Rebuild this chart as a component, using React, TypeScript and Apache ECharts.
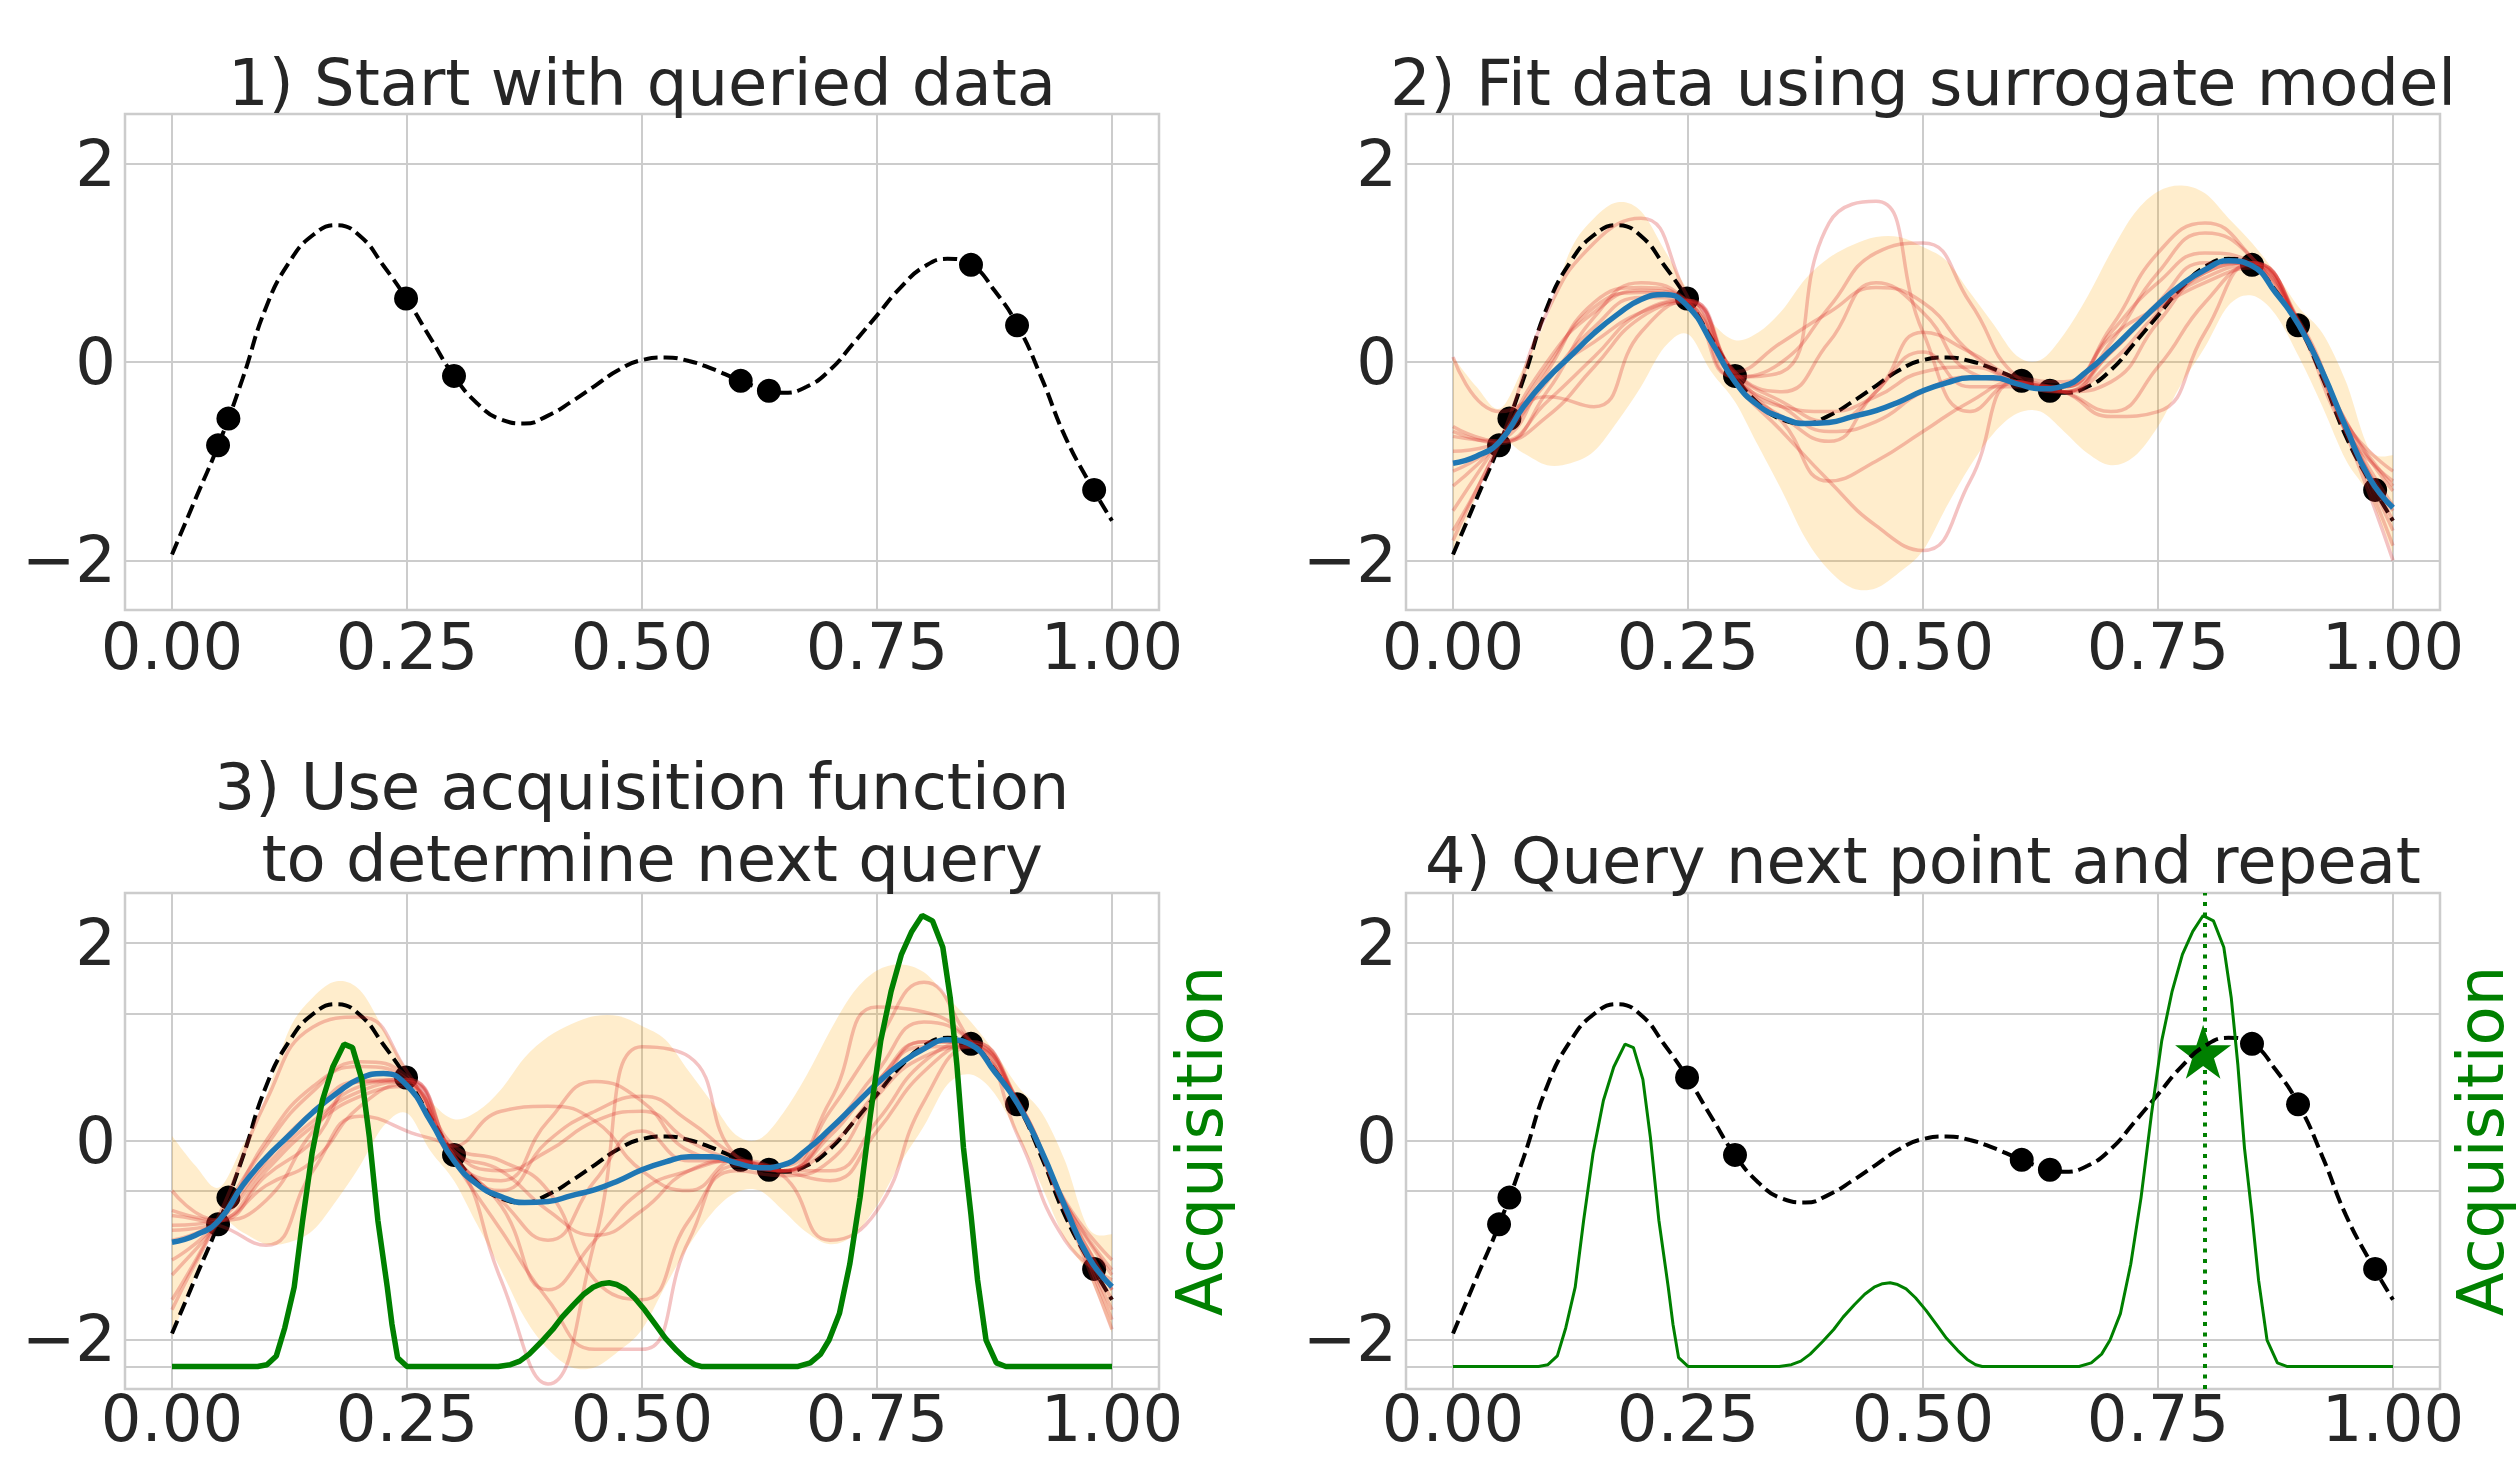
import React, { useEffect, useRef } from 'react';
import * as echarts from 'echarts';

// ---------- text ----------
const panelTitles = [
  '1) Start with queried data',
  '2) Fit data using surrogate model',
  '3) Use acquisition function\n to determine next query',
  '4) Query next point and repeat',
];
const acqAxisName = 'Acquisition';

// ---------- ticks ----------
const xTicks = [0, 0.25, 0.5, 0.75, 1.0];
const xTickLabels = ['0.00', '0.25', '0.50', '0.75', '1.00'];
const yTicks = [-2, 0, 2];
const yTickLabels = ['\u22122', '0', '2'];
const xMin = -0.05;
const xMax = 1.05;
const yMin = -2.5;
const yMax = 2.5;
const acqTicks = [0, 1, 2];
const acqAxisMin = -0.128;
const acqAxisMax = 2.688;

// ---------- true objective (dashed) ----------
const trueX = [0, 0.025, 0.05, 0.075, 0.1, 0.125, 0.15, 0.175, 0.2, 0.225, 0.25, 0.275, 0.3, 0.325, 0.35, 0.375, 0.4, 0.425, 0.45, 0.475, 0.5, 0.525, 0.55, 0.575, 0.6, 0.625, 0.65, 0.675, 0.7, 0.725, 0.75, 0.775, 0.8, 0.825, 0.85, 0.875, 0.9, 0.925, 0.95, 0.975, 1.0];
const trueY = [-1.94, -1.38, -0.82, -0.17, 0.55, 1.01, 1.28, 1.38, 1.27, 0.97, 0.63, 0.24, -0.14, -0.42, -0.58, -0.62, -0.54, -0.40, -0.24, -0.08, 0.02, 0.045, 0.01, -0.07, -0.17, -0.26, -0.31, -0.25, -0.08, 0.19, 0.47, 0.75, 0.96, 1.04, 0.98, 0.72, 0.36, -0.16, -0.75, -1.20, -1.60];

// ---------- queried observations ----------
const obsX = [0.049, 0.06, 0.249, 0.3, 0.605, 0.635, 0.85, 0.899, 0.981];
const obsY = [-0.84, -0.57, 0.64, -0.14, -0.19, -0.29, 0.98, 0.37, -1.29];

// ---------- GP posterior ----------
const gpX = [0, 0.025, 0.05, 0.075, 0.1, 0.125, 0.15, 0.175, 0.2, 0.225, 0.25, 0.275, 0.3, 0.325, 0.35, 0.375, 0.4, 0.425, 0.45, 0.475, 0.5, 0.525, 0.55, 0.575, 0.6, 0.625, 0.65, 0.675, 0.7, 0.725, 0.75, 0.775, 0.8, 0.825, 0.85, 0.875, 0.9, 0.925, 0.95, 0.975, 1.0];
const gpMean = [-1.02, -0.95, -0.80, -0.45, -0.17, 0.06, 0.29, 0.48, 0.63, 0.68, 0.56, 0.20, -0.20, -0.44, -0.56, -0.62, -0.61, -0.55, -0.49, -0.40, -0.29, -0.21, -0.16, -0.16, -0.22, -0.27, -0.24, -0.09, 0.12, 0.35, 0.58, 0.78, 0.93, 1.02, 0.97, 0.70, 0.37, -0.10, -0.66, -1.17, -1.47];
const gpUpper = [0.05, -0.25, -0.47, -0.05, 0.45, 1.13, 1.45, 1.61, 1.52, 1.13, 0.72, 0.40, 0.22, 0.30, 0.52, 0.84, 1.05, 1.18, 1.26, 1.26, 1.16, 1.02, 0.70, 0.38, 0.06, 0.02, 0.28, 0.66, 1.11, 1.50, 1.72, 1.78, 1.70, 1.45, 1.20, 0.90, 0.55, 0.29, -0.20, -0.88, -0.94];
const gpLower = [-1.97, -1.35, -0.82, -0.92, -1.04, -1.02, -0.90, -0.60, -0.25, 0.15, 0.28, -0.10, -0.40, -0.85, -1.30, -1.78, -2.10, -2.28, -2.28, -2.12, -1.90, -1.46, -1.05, -0.72, -0.52, -0.50, -0.70, -0.92, -1.04, -0.95, -0.65, -0.22, 0.15, 0.57, 0.67, 0.48, 0.05, -0.45, -0.99, -1.35, -1.93];

// ---------- posterior samples ----------
const sampleX = [0, 0.05, 0.1, 0.15, 0.2, 0.25, 0.3, 0.35, 0.4, 0.45, 0.5, 0.55, 0.6, 0.65, 0.7, 0.75, 0.8, 0.85, 0.9, 0.95, 1.0];
const fitSample1 = [-1.7, -0.8, 0.5, 1.2, 1.45, 0.65, -0.15, -0.45, -0.7, -0.6, -0.3, -0.15, -0.2, -0.25, 0.1, 0.6, 1.0, 1.0, 0.38, -0.65, -1.6];
const fitSample2 = [0.05, -0.5, -0.35, -0.45, 0.3, 0.62, -0.1, 0.2, 0.5, 0.75, 0.6, 0.1, -0.2, -0.3, 0.2, 0.9, 1.3, 1.05, 0.35, -0.7, -1.2];
const fitSample3 = [-0.7, -0.82, -0.3, 0.45, 0.8, 0.6, -0.15, -0.1, 1.4, 1.62, 0.3, -0.5, -0.2, -0.3, 0.1, 0.55, 0.85, 0.98, 0.42, -0.6, -1.3];
const fitSample4 = [-1.5, -0.78, -0.05, 0.55, 0.7, 0.6, -0.15, 0.0, 0.55, 1.1, 1.2, 0.6, -0.15, -0.3, 0.0, 0.5, 0.9, 1.0, 0.37, -0.7, -1.5];
const fitSample5 = [-1.25, -0.8, -0.2, 0.35, 0.65, 0.62, -0.2, -0.7, -1.2, -1.65, -1.9, -1.2, -0.2, -0.3, -0.2, 0.4, 0.9, 1.0, 0.4, -0.62, -1.1];
const fitSample6 = [-1.1, -0.8, -0.15, 0.2, 0.5, 0.62, -0.15, -0.6, -1.2, -1.0, -0.7, -0.4, -0.2, -0.3, -0.5, -0.05, 0.6, 0.98, 0.36, -0.68, -1.85];
const fitSample7 = [-0.65, -0.8, -0.55, -0.05, 0.45, 0.6, -0.12, -0.45, -0.5, -0.35, -0.1, -0.05, -0.2, -0.3, -0.55, -0.5, 0.3, 1.0, 0.4, -0.66, -1.7];
const fitSample8 = [-0.9, -0.8, -0.1, 0.6, 0.75, 0.6, -0.1, -0.4, -0.6, -0.3, 0.3, 0.1, -0.15, -0.2, 0.35, 1.1, 1.4, 1.05, 0.4, -0.6, -1.25];
const fitSample9 = [-1.8, -0.82, 0.0, 0.5, 0.72, 0.62, -0.2, -0.55, -0.8, -0.3, 0.1, -0.25, -0.25, -0.25, 0.3, 0.8, 1.1, 1.0, 0.37, -0.72, -2.0];
const fitSample10 = [-0.75, -0.8, -0.4, 0.05, 0.5, 0.62, -0.1, -0.3, 0.2, 0.8, 0.5, -0.1, -0.2, -0.25, 0.25, 0.55, 0.8, 0.95, 0.38, -0.65, -1.45];

const acqSample1 = [-0.75, -0.85, -1.05, -0.3, 0.25, 0.1, -0.15, -1.4, -2.45, -1.0, 0.95, 0.85, -0.15, -0.3, 0.05, 0.6, 0.95, 0.95, 0.05, -1.0, -1.4];
const acqSample2 = [-1.6, -0.75, 0.4, 1.15, 1.25, 0.7, -0.1, -0.3, -0.1, 0.2, 0.3, 0.0, -0.2, -0.3, 0.1, 0.7, 1.2, 1.0, 0.35, -0.7, -1.7];
const acqSample3 = [-0.5, -0.8, -0.6, 0.1, 0.55, 0.62, -0.15, -0.65, -1.5, -1.0, -0.5, -0.3, -0.2, -0.3, -0.3, 0.2, 0.8, 1.0, 0.38, -0.65, -1.5];
const acqSample4 = [-1.35, -0.82, -0.2, 0.3, 0.6, 0.6, -0.2, -0.5, 0.0, 0.3, 0.45, 0.2, -0.15, -0.3, 0.3, 1.0, 1.6, 1.0, 0.36, -0.68, -1.8];
const acqSample5 = [-0.85, -0.8, -0.45, -0.2, 0.35, 0.58, -0.05, 0.3, 0.35, 0.2, -0.3, -0.5, -0.2, -0.35, -1.0, -0.7, 0.4, 0.95, 0.4, -0.6, -1.2];
const acqSample6 = [-1.0, -0.8, -0.25, 0.2, 0.5, 0.6, -0.2, -0.9, -1.6, -2.1, -2.1, -1.0, -0.25, -0.3, -0.05, 0.5, 1.0, 1.0, 0.4, -0.62, -1.3];
const acqSample7 = [-1.7, -0.8, -0.05, 0.5, 0.8, 0.65, -0.1, -0.3, -0.7, -0.95, -0.7, -0.3, -0.2, -0.3, -0.4, 0.1, 0.7, 0.98, 0.37, -0.7, -1.6];
const acqSample8 = [-0.9, -0.82, -0.3, 0.15, 0.45, 0.55, -0.2, -0.4, 0.2, 0.6, 0.4, -0.1, -0.2, -0.25, 0.4, 1.35, 1.3, 1.0, 0.38, -0.62, -1.35];
const acqSample9 = [-1.2, -0.8, 0.0, 0.55, 0.75, 0.62, -0.15, -0.6, -1.0, -0.4, 0.1, -0.2, -0.2, -0.3, 0.1, 0.6, 1.0, 0.98, 0.36, -0.7, -1.9];
const acqSample10 = [-0.7, -0.8, -0.35, 0.0, 0.6, 0.62, -0.05, -0.2, -0.5, -1.4, -1.6, -0.8, -0.3, -0.35, -0.2, 0.45, 0.85, 0.95, 0.4, -0.66, -1.5];

const fitSamples = [fitSample1, fitSample2, fitSample3, fitSample4, fitSample5, fitSample6, fitSample7, fitSample8, fitSample9, fitSample10];
const acqSamples = [acqSample1, acqSample2, acqSample3, acqSample4, acqSample5, acqSample6, acqSample7, acqSample8, acqSample9, acqSample10];

// ---------- acquisition function ----------
const acqX = [0, 0.091, 0.101, 0.111, 0.12, 0.13, 0.139, 0.149, 0.16, 0.171, 0.183, 0.192, 0.202, 0.21, 0.219, 0.229, 0.234, 0.24, 0.25,
  0.347, 0.36, 0.37, 0.38, 0.393, 0.405, 0.415, 0.427, 0.438, 0.448, 0.457, 0.465, 0.473, 0.482, 0.492, 0.503, 0.514, 0.525, 0.537, 0.547, 0.556, 0.563,
  0.666, 0.679, 0.69, 0.699, 0.71, 0.721, 0.732, 0.743, 0.754, 0.765, 0.776, 0.787, 0.798, 0.809, 0.82, 0.828, 0.835, 0.842, 0.85, 0.857, 0.866, 0.877, 0.887, 1.0];
const acqY = [0, 0, 0.01, 0.06, 0.22, 0.45, 0.83, 1.21, 1.51, 1.70, 1.83, 1.81, 1.63, 1.30, 0.83, 0.45, 0.24, 0.05, 0,
  0, 0.01, 0.03, 0.07, 0.14, 0.21, 0.28, 0.35, 0.41, 0.45, 0.47, 0.475, 0.465, 0.44, 0.39, 0.32, 0.24, 0.16, 0.09, 0.04, 0.01, 0,
  0, 0.02, 0.07, 0.15, 0.30, 0.58, 0.96, 1.43, 1.85, 2.13, 2.34, 2.47, 2.56, 2.53, 2.38, 2.09, 1.71, 1.24, 0.86, 0.49, 0.15, 0.02, 0, 0];

// ---------- next query ----------
const nextX = [0.798];
const nextY = [0.9];

// ---------- styling / layout ----------
const FONT = 'DejaVu Sans';
const INK = '#262626';
const GRID_LINE = '#cccccc';
const FS = 64;
const PANEL_W = 1034;
const PANEL_H = 496;
const panels = [
  { left: 125, top: 114 },
  { left: 1406, top: 114 },
  { left: 125, top: 893 },
  { left: 1406, top: 893 },
];
const titleTops = [47, 47, 751, 825];
const xLabelMargins = [9, 9, 2, 2];
const STAR = 'path://M50,0 L61.8,35.1 L99,35.1 L69,57.4 L80.3,92.7 L50,71 L19.7,92.7 L31,57.4 L1,35.1 L38.2,35.1 Z';

const pairs = (xs: number[], ys: number[]) => xs.map((x, i) => [x, ys[i]]);

function smoothPath(pts: number[][], start: boolean): string {
  let d = (start ? 'M' : 'L') + pts[0][0] + ',' + pts[0][1];
  for (let i = 0; i < pts.length - 1; i++) {
    const p0 = pts[i - 1] || pts[i];
    const p1 = pts[i];
    const p2 = pts[i + 1];
    const p3 = pts[i + 2] || pts[i + 1];
    const c1x = p1[0] + (p2[0] - p0[0]) / 6;
    const c1y = p1[1] + (p2[1] - p0[1]) / 6;
    const c2x = p2[0] - (p3[0] - p1[0]) / 6;
    const c2y = p2[1] - (p3[1] - p1[1]) / 6;
    d += 'C' + c1x + ',' + c1y + ' ' + c2x + ',' + c2y + ' ' + p2[0] + ',' + p2[1];
  }
  return d;
}

function dashedSeries(p: number) {
  return {
    type: 'line', xAxisIndex: p, yAxisIndex: p, data: pairs(trueX, trueY), smooth: true,
    symbol: 'none', silent: true,
    lineStyle: { color: '#000000', width: 4, type: [14, 6] },
  };
}
function pointSeries(p: number) {
  return {
    type: 'scatter', xAxisIndex: p, yAxisIndex: p, data: pairs(obsX, obsY), symbol: 'circle',
    symbolSize: 24, silent: true, itemStyle: { color: '#000000', opacity: 1 },
  };
}
function bandSeries(p: number) {
  return {
    type: 'custom', xAxisIndex: p, yAxisIndex: p, silent: true,
    data: [[0.5, 0]],
    encode: { x: 0, y: 1 },
    renderItem: (_params: any, api: any) => {
      const up = gpX.map((x, i) => api.coord([x, gpUpper[i]]));
      const lo = gpX.map((x, i) => api.coord([x, gpLower[i]])).reverse();
      const d = smoothPath(up, true) + smoothPath(lo, false) + 'Z';
      return { type: 'path', shape: { pathData: d }, style: { fill: 'rgba(255,165,0,0.2)', stroke: null } };
    },
  };
}
function sampleSeries(p: number, samples: number[][]) {
  return samples.map((s) => ({
    type: 'line', xAxisIndex: p, yAxisIndex: p, data: pairs(sampleX, s), smooth: true,
    symbol: 'none', silent: true,
    lineStyle: { color: 'rgba(214,39,40,0.28)', width: 3.5 },
  }));
}
function meanSeries(p: number) {
  return {
    type: 'line', xAxisIndex: p, yAxisIndex: p, data: pairs(gpX, gpMean), smooth: true,
    symbol: 'none', silent: true,
    lineStyle: { color: '#1f77b4', width: 5.5 },
  };
}
function acqSeries(p: number, yIdx: number, width: number, withMark: boolean) {
  const s: any = {
    type: 'line', xAxisIndex: p, yAxisIndex: yIdx, data: pairs(acqX, acqY), smooth: false,
    symbol: 'none', silent: true,
    lineStyle: { color: '#008000', width },
  };
  if (withMark) {
    s.markLine = {
      silent: true, symbol: ['none', 'none'], label: { show: false },
      lineStyle: { color: '#008000', width: 4, type: [4, 6.5] },
      data: nextX.map((x) => ({ xAxis: x })),
    };
  }
  return s;
}

function buildOption(): any {
  const grid = panels.map((p) => ({
    left: p.left, top: p.top, width: PANEL_W, height: PANEL_H, show: true,
    borderColor: GRID_LINE, borderWidth: 2.5, backgroundColor: '#ffffff',
  }));
  const title = panels.map((p, i) => ({
    text: panelTitles[i], left: p.left + PANEL_W / 2, top: titleTops[i], textAlign: 'center',
    textVerticalAlign: 'top', padding: 0,
    textStyle: { fontFamily: FONT, fontSize: FS, fontWeight: 'normal', color: INK, lineHeight: 72 },
  }));
  const xAxis = panels.map((_, i) => ({
    type: 'value', gridIndex: i, min: xMin, max: xMax,
    axisLine: { show: false },
    axisTick: { show: false, customValues: xTicks },
    axisLabel: {
      customValues: xTicks, fontFamily: FONT, fontSize: FS, color: INK, margin: xLabelMargins[i], lineHeight: 56,
      formatter: (v: number) => { const k = xTicks.indexOf(v); return k >= 0 ? xTickLabels[k] : ''; },
    },
    splitLine: { show: true, lineStyle: { color: GRID_LINE, width: 2 } },
  }));
  const yMain = panels.map((_, i) => ({
    type: 'value', gridIndex: i, min: yMin, max: yMax,
    axisLine: { show: false },
    axisTick: { show: false, customValues: yTicks },
    axisLabel: {
      customValues: yTicks, fontFamily: FONT, fontSize: FS, color: INK, margin: 9,
      formatter: (v: number) => { const k = yTicks.indexOf(v); return k >= 0 ? yTickLabels[k] : ''; },
    },
    splitLine: { show: true, lineStyle: { color: GRID_LINE, width: 2 } },
  }));
  const yTwin = [2, 3].map((i) => ({
    type: 'value', gridIndex: i, position: 'right', min: acqAxisMin, max: acqAxisMax,
    axisLine: { show: false },
    axisTick: { show: false, customValues: acqTicks },
    axisLabel: { show: false, customValues: acqTicks },
    splitLine: { show: true, lineStyle: { color: GRID_LINE, width: 2 } },
    name: acqAxisName, nameLocation: 'middle', nameRotate: 90, nameGap: 13,
    nameTextStyle: { fontFamily: FONT, fontSize: FS, color: '#008000', lineHeight: 56 },
  }));

  const series: any[] = [];
  // panel 1
  series.push(dashedSeries(0), pointSeries(0));
  // panel 2
  series.push(dashedSeries(1), pointSeries(1), bandSeries(1), ...sampleSeries(1, fitSamples), meanSeries(1));
  // panel 3
  series.push(dashedSeries(2), pointSeries(2), bandSeries(2), ...sampleSeries(2, acqSamples), meanSeries(2), acqSeries(2, 4, 5.5, false));
  // panel 4
  series.push(dashedSeries(3), pointSeries(3), acqSeries(3, 5, 3, true));
  series.push({
    type: 'scatter', xAxisIndex: 3, yAxisIndex: 3, data: pairs(nextX, nextY), symbol: STAR,
    symbolSize: [56, 54], silent: true, itemStyle: { color: '#008000', opacity: 1 },
  });

  return {
    animation: false,
    backgroundColor: '#ffffff',
    textStyle: { fontFamily: FONT },
    title,
    grid,
    xAxis,
    yAxis: [...yMain, ...yTwin],
    series,
  };
}

export default function App() {
  const ref = useRef<HTMLDivElement>(null);
  useEffect(() => {
    if (!ref.current) return;
    const chart = echarts.init(ref.current, null, { renderer: 'svg' });
    chart.setOption(buildOption());
    return () => chart.dispose();
  }, []);
  return (
    <div
      ref={ref}
      style={{ position: 'absolute', left: 0, top: 0, width: 2519, height: 1457, background: '#ffffff' }}
    />
  );
}
